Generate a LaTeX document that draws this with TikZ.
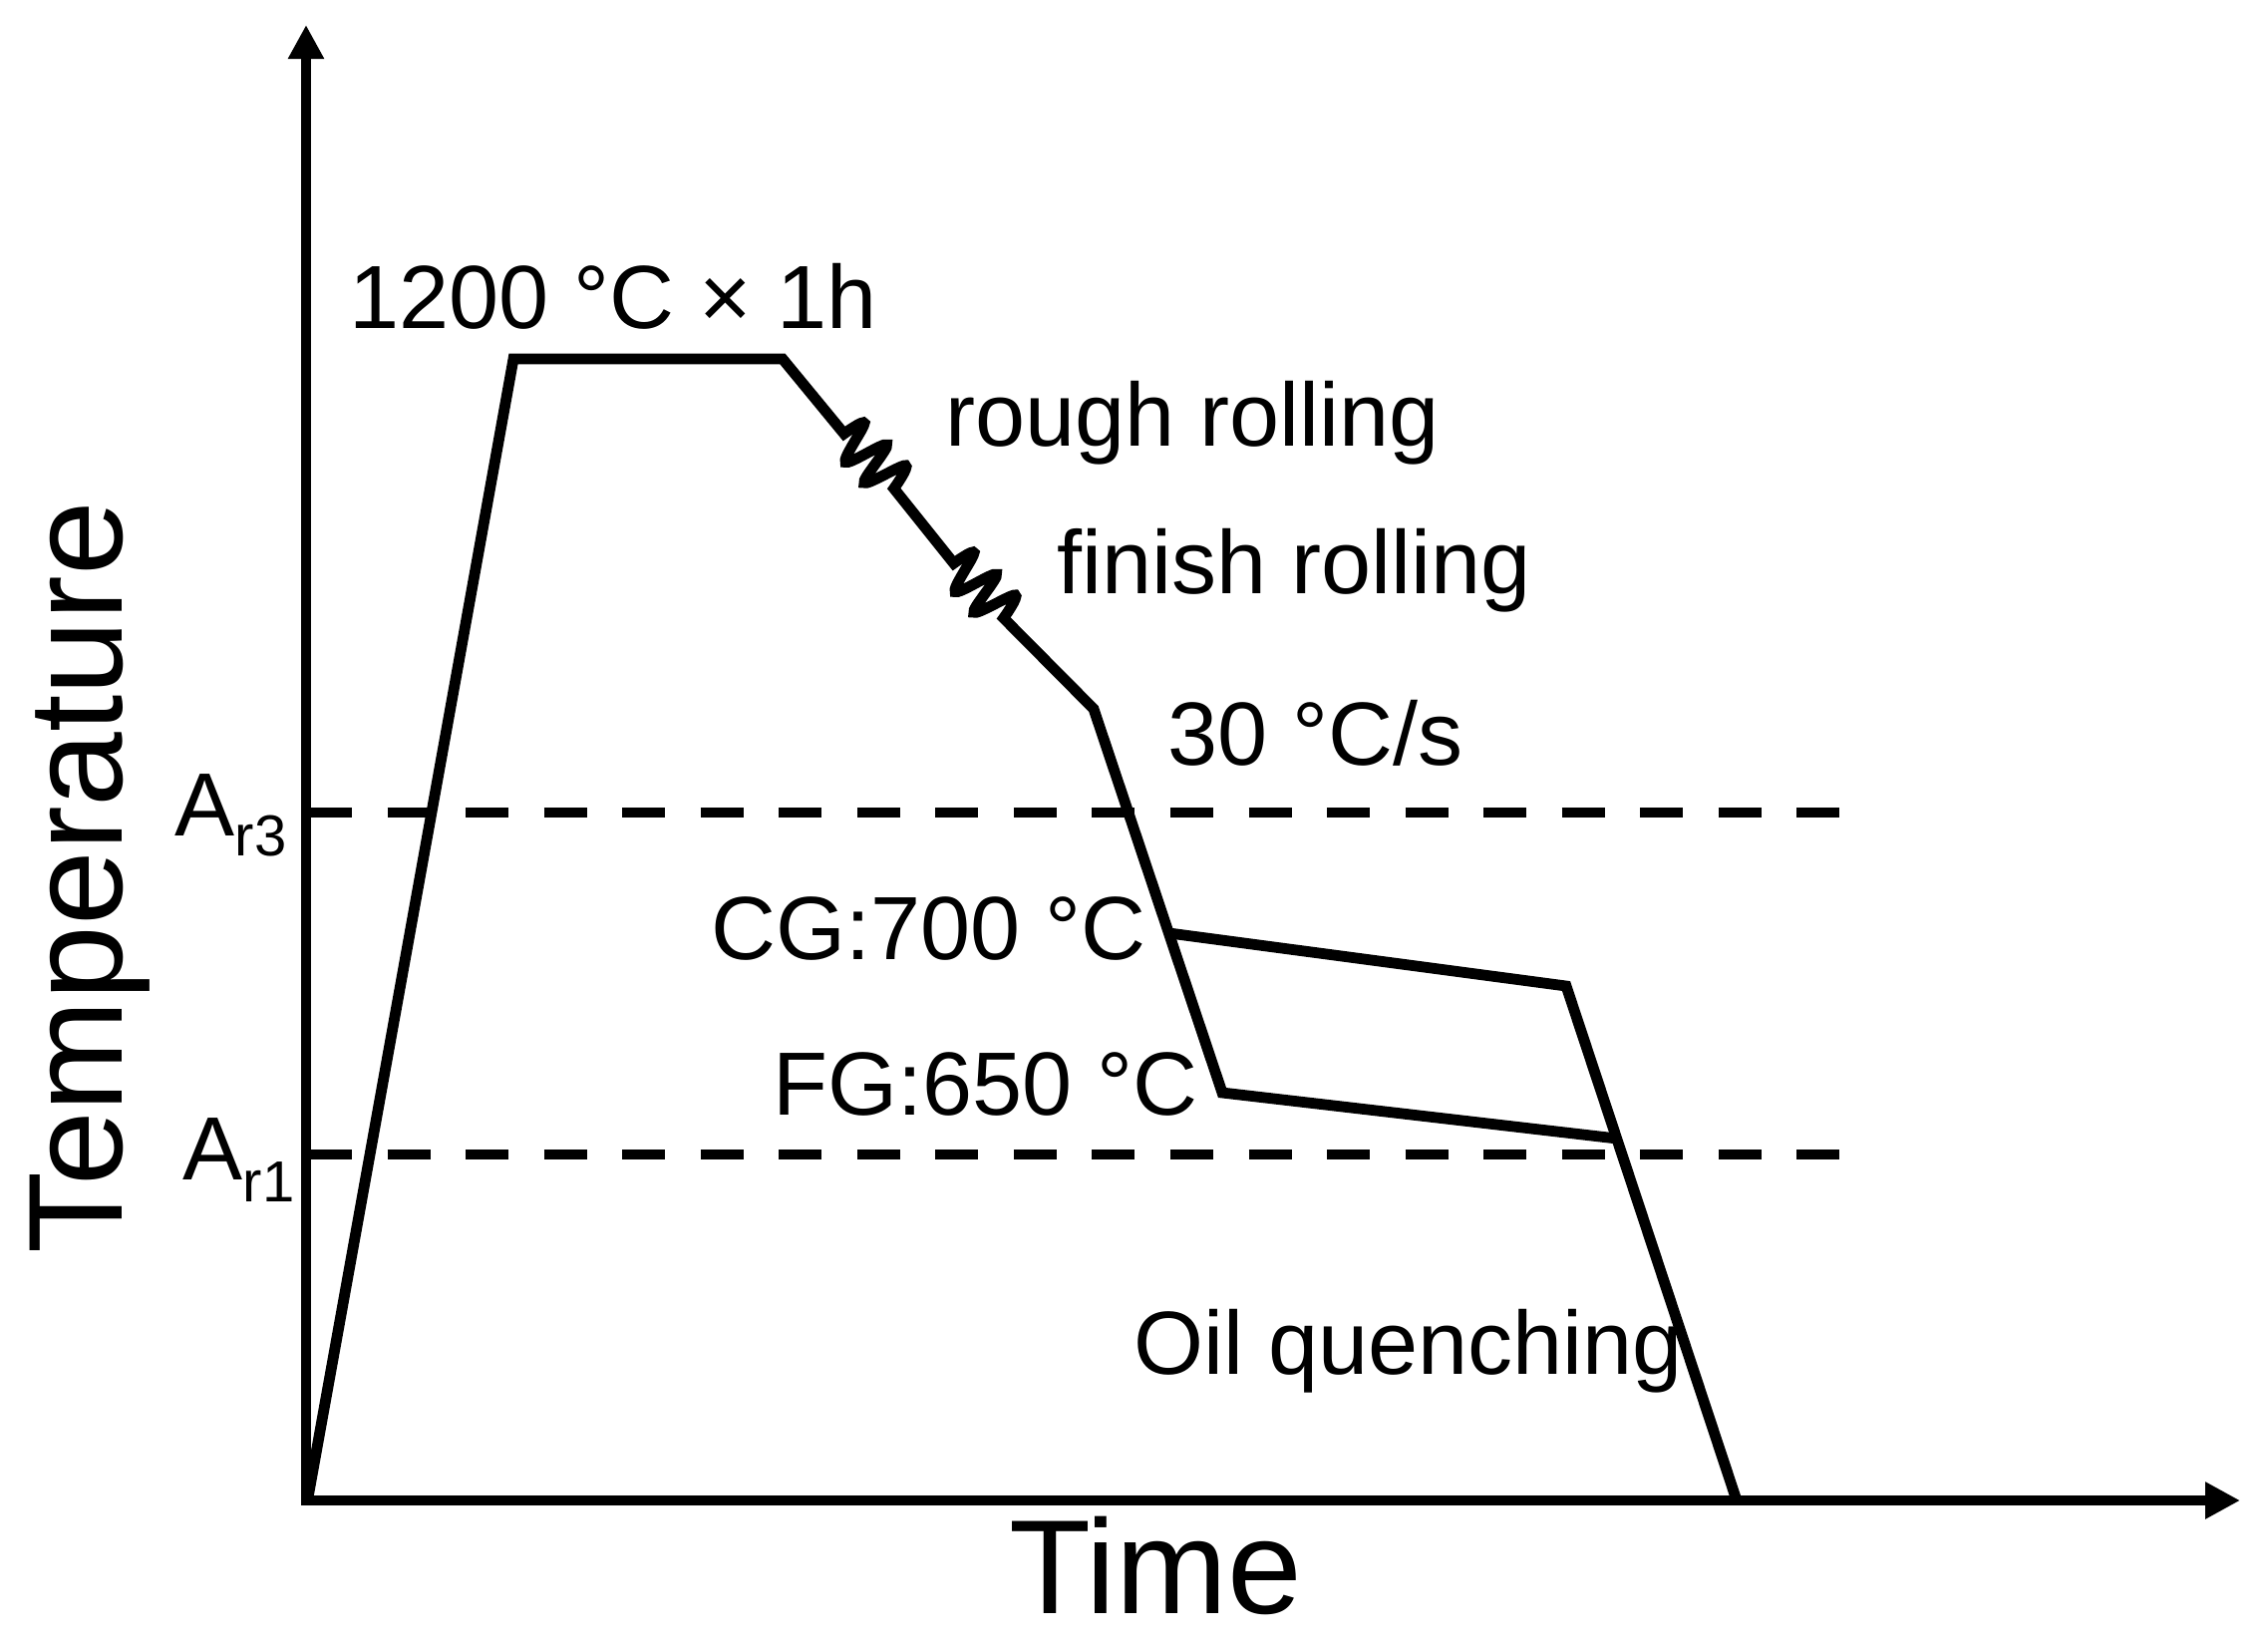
\documentclass[tikz,border=0pt]{standalone}
\usepackage{fontspec}
\setmainfont{Liberation Sans}
\usetikzlibrary{arrows.meta,calc}
\begin{document}
\begin{tikzpicture}[x=0.01cm,y=-0.01cm,
  curve/.style={line width=0.108cm},
  zig/.style={line width=0.108cm},
  lbl/.style={inner sep=0pt, font=\fontsize{25.6}{30}\selectfont},
  axlbl/.style={inner sep=0pt, font=\fontsize{38.2}{45}\selectfont},
  limitline/.style={line width=0.106cm, dash pattern=on 0.43cm off 0.355cm},
  axis/.style={line width=0.106cm, {Triangle[length=0.34cm,width=0.34cm]}-{Triangle[length=0.35cm,width=0.35cm]}}]
\useasboundingbox[fill=white] (0,0) rectangle (2275,1650);

% axes
\coordinate (ytip) at (307,25);
\coordinate (orig) at (307,1505);
\coordinate (xtip) at (2247,1505);
\draw[axis] (ytip) -- (orig) -- (xtip);

% transformation temperature lines
\coordinate (ar3s) at (310,815);
\coordinate (ar3e) at (1845,815);
\coordinate (ar1s) at (310,1158);
\coordinate (ar1e) at (1845,1158);
\draw[limitline] (ar3s) -- (ar3e);
\draw[limitline] (ar1s) -- (ar1e);

% process curve
\coordinate (O) at (309,1502);
\coordinate (T1) at (515,360);
\coordinate (T2) at (785,360);
\coordinate (Z1s) at (846.7,435);
\coordinate (Z2s) at (956.7,565);
\coordinate (K) at (1097,711);
\coordinate (CGb) at (1173,936);
\coordinate (CGc) at (1571,989);
\coordinate (FGc) at (1226,1096);
\coordinate (FGe) at (1622,1142);
\coordinate (Q) at (1741,1502);

\draw[zig] (O) -- (T1) -- (T2) -- (Z1s)
  -- plot[smooth, tension=0.55] coordinates {(846.7,435) (867,424.6) (848.2,463.4) (889.4,446.2) (867,484.1) (908.2,466.9) (896.7,490)}
  -- (Z2s)
  -- plot[smooth, tension=0.55] coordinates {(956.7,565) (977,554.6) (958.2,593.4) (999.4,576.2) (977,614.1) (1018.2,596.9) (1006.7,620)}
  -- (K) -- (FGc) -- (FGe);
\draw[curve] (CGb) -- (CGc) -- (Q);

% labels
\node[lbl, anchor=base west] (hold) at (350,329) {1200 °C × 1h};
\node[lbl, anchor=base west] (rough) at (948,447) {rough rolling};
\node[lbl, anchor=base west] (finish) at (1060,595) {finish rolling};
\node[lbl, anchor=base west] (rate) at (1171,767) {30 °C/s};
\node[lbl, anchor=base east] (cg) at (1150,962) {CG:700 °C};
\node[lbl, anchor=base east] (fg) at (1202,1118) {FG:650 °C};
\node[lbl, anchor=base west] (oil) at (1137,1378) {Oil quenching};
\node[lbl, anchor=base west] (ar3) at (175,838) {A\raisebox{-0.2cm}{\fontsize{16.5}{19}\selectfont r3}};
\node[lbl, anchor=base west] (ar1) at (183,1183) {A\raisebox{-0.22cm}{\fontsize{16.5}{19}\selectfont r1}};
\node[axlbl, anchor=base, rotate=90] (temp) at (122,880) {Temperature};
\node[axlbl, anchor=base west] (time) at (1012,1618) {Time};
\end{tikzpicture}
\end{document}
